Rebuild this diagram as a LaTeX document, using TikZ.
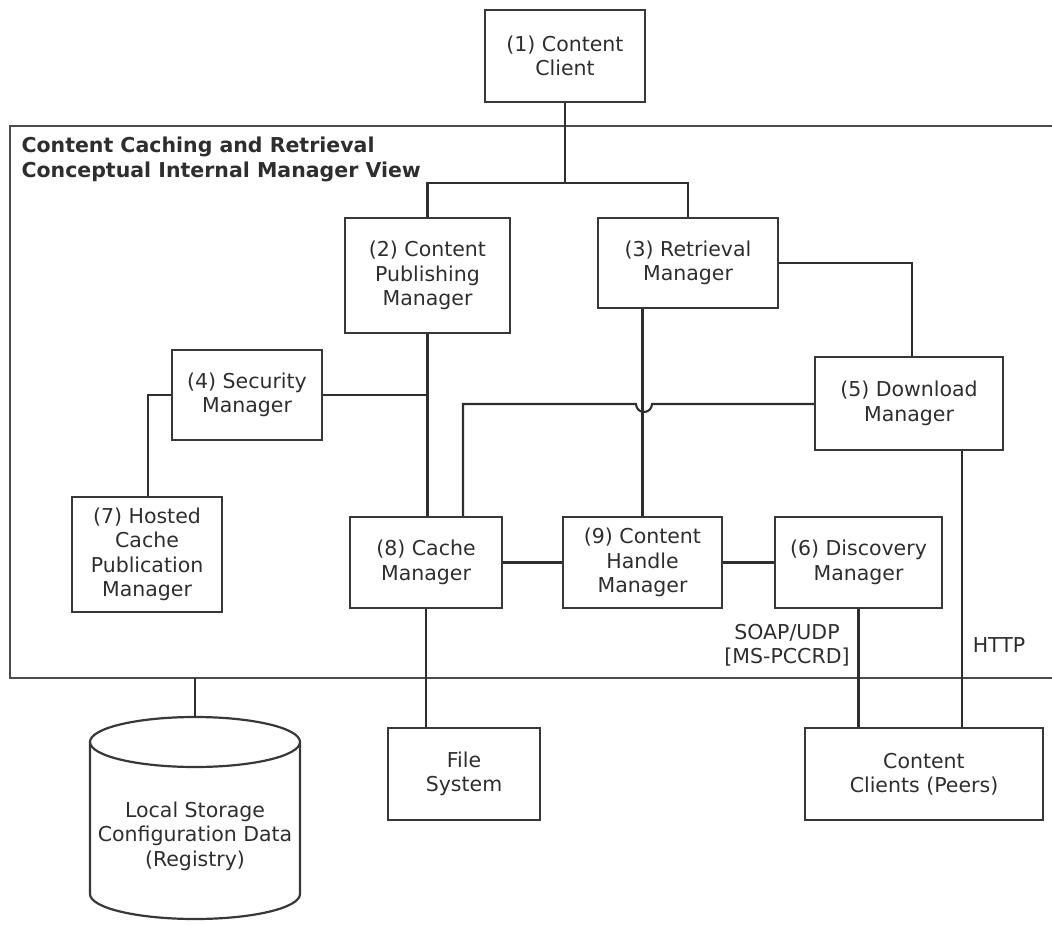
\documentclass[tikz,border=0pt]{standalone}
\usepackage{fontspec}
\setmainfont{DejaVu Sans}
\begin{document}
\begin{tikzpicture}[x=1pt,y=-1pt,
  every node/.style={font=\fontsize{20.5}{24.5}\selectfont, text=black!82},
  box/.style={draw=black!78, line width=2.2pt, align=center, inner sep=0pt},
  link/.style={draw=black!82, line width=2.1pt},
  frame/.style={draw=black!70, line width=2.2pt}]
\useasboundingbox (0,0) rectangle (1052,925);
% outer frame
\draw[frame] (1052,126) -- (10,126) -- (10,678) -- (1052,678);
\node[anchor=north west, align=left, font=\fontsize{20.5}{25.5}\selectfont\bfseries] (title) at (18,133)
  {Content Caching and Retrieval\\Conceptual Internal Manager View};
% boxes
\node[box, minimum width=160, minimum height=92] (n1) at (565,56) {(1) Content\\Client};
\node[box, minimum width=165, minimum height=115] (n2) at (427.5,275.5) {(2) Content\\Publishing\\Manager};
\node[box, minimum width=180, minimum height=90] (n3) at (688,263) {(3) Retrieval\\Manager};
\node[box, minimum width=188, minimum height=93] (n5) at (909,403.5) {(5) Download\\Manager};
\node[box, minimum width=150, minimum height=90] (n4) at (247,395) {(4) Security\\Manager};
\node[box, minimum width=150, minimum height=115] (n7) at (147,554.5) {(7) Hosted\\Cache\\Publication\\Manager};
\node[box, minimum width=152, minimum height=91] (n8) at (426,562.5) {(8) Cache\\Manager};
\node[box, minimum width=159, minimum height=91] (n9) at (642.5,562.5) {(9) Content\\Handle\\Manager};
\node[box, minimum width=167, minimum height=91] (n6) at (858.5,562.5) {(6) Discovery\\Manager};
\node[box, minimum width=152, minimum height=92] (fs) at (464,774) {File\\System};
\node[box, minimum width=238, minimum height=92] (cc) at (924,774) {Content\\Clients (Peers)};
% cylinder
\coordinate (cyltop) at (195,717);
\draw[box] (90,742) -- (90,894) arc (180:0:105 and 25) -- (300,742);
\draw[box] (195,742) ellipse (105 and 25);
\node[align=center] (cyl) at (195,836) {Local Storage\\Configuration Data\\(Registry)};
% labels
\node[align=center] (soap) at (787,645) {SOAP/UDP\\{[MS-PCCRD]}};
\node (http) at (999,645) {HTTP};
% connectors
\coordinate (fork) at (565,183);
\draw[link] (n1.south) -- (fork);
\draw[link] (n2.north) |- (fork) -| (n3.north);
\draw[link] (n3.east) -| ([xshift=3pt]n5.north);
\draw[link] (n9.north) -- (n9.north |- n3.south);
\draw[link] (n2.south) -- (n2.south |- n8.north);
\draw[link] (n4.east) -- (n4.east -| n2.south);
\draw[link] (n4.west) -| ([xshift=1pt]n7.north);
\coordinate (hop) at (644,404);
\coordinate (c8) at (463,404);
\draw[link] (n5.west |- hop) -- ([xshift=8pt]hop) arc (0:180:8) -- (c8) -- (c8 |- n8.north);
\draw[link] (n8.east) -- (n9.west);
\draw[link] (n9.east) -- (n6.west);
\draw[link] (n8.south) -- (n8.south |- fs.north);
\draw[link] (n6.south) -- (n6.south |- cc.north);
\coordinate (c5) at (962,450);
\draw[link] (c5 |- n5.south) -- (c5 |- cc.north);
\draw[link] (195,678) -- (cyltop);
\end{tikzpicture}
\end{document}
